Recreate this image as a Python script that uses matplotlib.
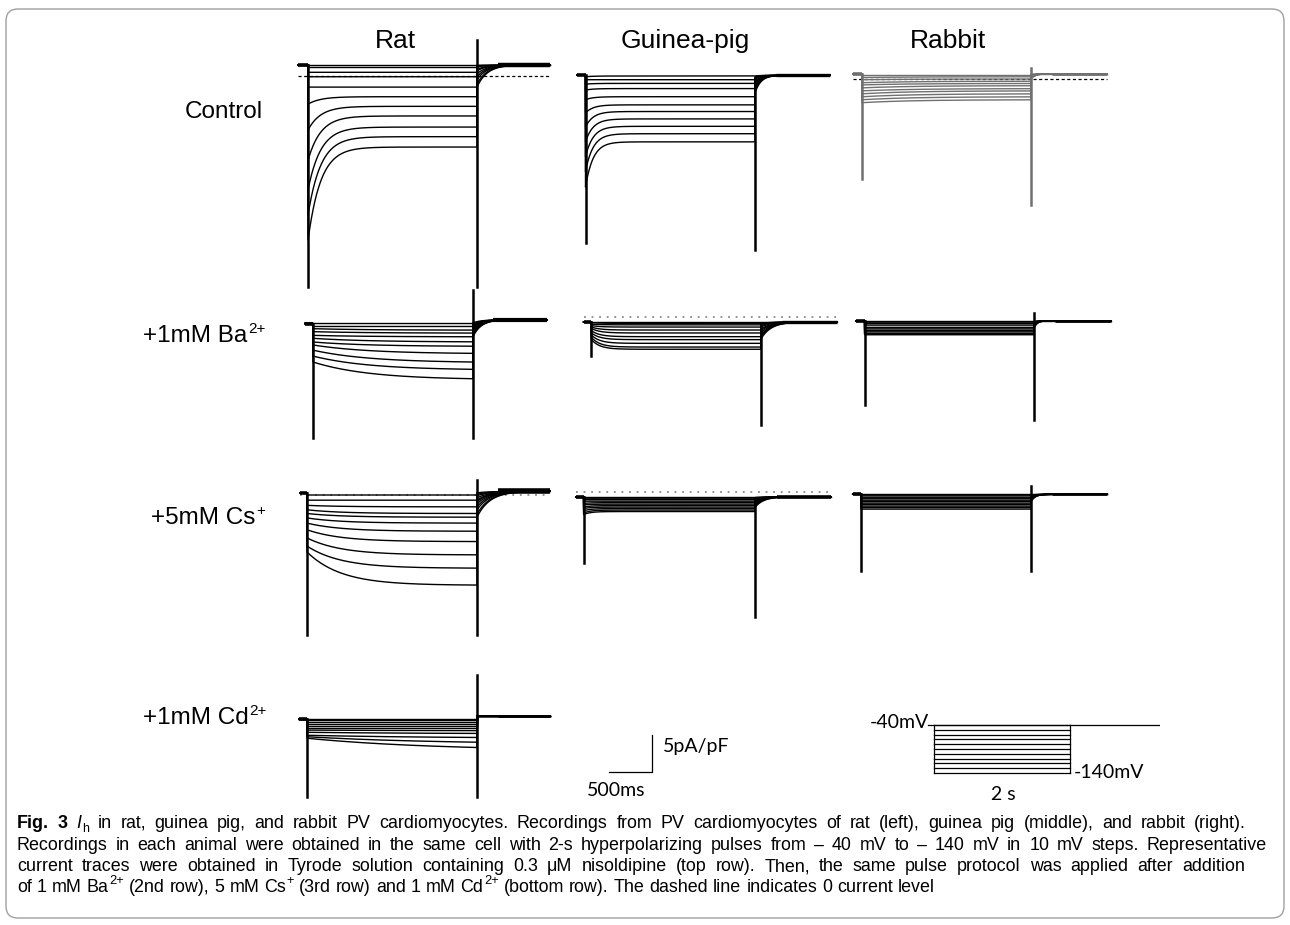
import matplotlib
matplotlib.use("Agg")
import matplotlib.pyplot as plt
import numpy as np
from matplotlib import font_manager
from matplotlib.patches import FancyBboxPatch

# ---------------- data (pA/pF) ----------------
COLUMNS = ["Rat", "Guinea-pig", "Rabbit"]
ROW_BASES = ["Control", "+1mM Ba", "+5mM Cs", "+1mM Cd"]
ROW_SUPS = ["", "2+", "+", "2+"]

RAT_CTRL_HOLD = 1.5
RAT_CTRL_INIT = [1.5, 1.2, 0.5, -0.1, -1.5, -3.8, -7.3, -11.4, -15.4, -18.8, -22.2]
RAT_CTRL_SS = [1.5, 1.2, 0.5, -0.1, -1.5, -2.8, -4.1, -5.4, -6.9, -8.2, -9.6]
RAT_CTRL_TAIL = [1.5, 1.5, 1.4, 1.2, 0.9, 0.7, 0.3, -0.1, -0.5, -1.1, -1.5]
RAT_CTRL_SPIKES = [-28.5, 4.9, -28.5]

GP_CTRL_HOLD = 0.1
GP_CTRL_INIT = [-0.1, -0.5, -1.1, -1.9, -3.2, -5.0, -6.9, -8.9, -10.9, -12.9, -15.0]
GP_CTRL_SS = [0.0, -0.5, -1.0, -1.7, -2.8, -3.9, -4.8, -5.8, -6.8, -7.8, -8.9]
GP_CTRL_TAIL = [0.0, -0.1, -0.3, -0.4, -0.7, -0.9, -1.2, -1.5, -1.8, -2.0, -2.3]
GP_CTRL_SPIKES = [-22.6, -0.3, -23.5]

RAB_CTRL_HOLD = 0.7
RAB_CTRL_INIT = [0.5, 0.2, -0.1, -0.5, -0.8, -1.2, -1.6, -2.0, -2.4, -2.8, -3.2]
RAB_CTRL_SS = [0.5, 0.3, 0.0, -0.3, -0.6, -0.9, -1.3, -1.6, -2.0, -2.4, -2.8]
RAB_CTRL_TAIL = [0.7, 0.6, 0.5, 0.5, 0.4, 0.3, 0.3, 0.2, 0.1, 0.1, 0.0]
RAB_CTRL_SPIKES = [-13.5, 1.5, -17.0]

RAT_BA_HOLD = 0.2
RAT_BA_INIT = [0.2, -0.2, -0.5, -0.9, -1.4, -1.8, -2.3, -2.7, -3.4, -4.2, -5.0]
RAT_BA_SS = [0.2, -0.2, -0.7, -1.1, -1.6, -2.3, -2.9, -3.9, -5.1, -6.1, -7.4]
RAT_BA_TAIL = [0.3, 0.1, 0.0, -0.1, -0.3, -0.5, -0.7, -0.9, -1.1, -1.4, -1.6]
RAT_BA_SPIKES = [-15.3, 4.7, -15.3]

GP_BA_HOLD = -0.7
GP_BA_INIT = [-0.7, -0.8, -1.0, -1.2, -1.4, -1.6, -1.9, -2.2, -2.5, -2.8, -3.1]
GP_BA_SS = [-0.7, -0.9, -1.1, -1.4, -1.8, -2.2, -2.7, -3.1, -3.6, -4.1, -4.4]
GP_BA_TAIL = [-0.7, -0.9, -1.0, -1.2, -1.4, -1.7, -1.9, -2.2, -2.5, -2.7, -3.0]
GP_BA_SPIKES = [-5.3, -0.8, -14.6]

RAB_BA_HOLD = 0.0
RAB_BA_INIT = [0.0, -0.2, -0.4, -0.6, -0.9, -1.1, -1.3, -1.5, -1.7, -1.8, -1.9]
RAB_BA_SS = [0.0, -0.2, -0.4, -0.6, -0.9, -1.1, -1.3, -1.5, -1.7, -1.8, -1.9]
RAB_BA_TAIL = [0.0, -0.1, -0.2, -0.3, -0.4, -0.5, -0.6, -0.7, -0.8, -0.9, -1.0]
RAB_BA_SPIKES = [-11.4, 1.0, -13.4]

RAT_CS_HOLD = 0.3
RAT_CS_INIT = [0.0, -0.7, -1.4, -2.0, -2.5, -3.1, -3.8, -4.7, -5.8, -6.9, -7.7]
RAT_CS_SS = [0.0, -0.7, -1.6, -2.5, -3.0, -3.8, -4.9, -6.3, -8.1, -9.9, -12.2]
RAT_CS_TAIL = [0.3, 0.1, -0.1, -0.4, -0.7, -0.9, -1.2, -1.6, -2.0, -2.6, -3.0]
RAT_CS_SPIKES = [-18.9, 2.0, -18.9]

GP_CS_HOLD = -0.6
GP_CS_INIT = [-0.6, -0.8, -1.0, -1.2, -1.5, -1.7, -2.0, -2.2, -2.5, -2.8, -3.0]
GP_CS_SS = [-0.6, -0.8, -1.0, -1.2, -1.4, -1.6, -1.8, -2.0, -2.2, -2.4, -2.6]
GP_CS_TAIL = [-0.6, -0.7, -0.8, -0.9, -1.0, -1.1, -1.2, -1.4, -1.6, -1.8, -2.0]
GP_CS_SPIKES = [-9.5, -0.8, -16.8]

RAB_CS_HOLD = 0.0
RAB_CS_INIT = [0.0, -0.2, -0.4, -0.6, -0.8, -1.0, -1.2, -1.4, -1.6, -1.8, -2.0]
RAB_CS_SS = [0.0, -0.2, -0.4, -0.6, -0.8, -1.0, -1.2, -1.4, -1.6, -1.8, -2.0]
RAB_CS_TAIL = [0.0, -0.1, -0.2, -0.3, -0.4, -0.5, -0.6, -0.7, -0.8, -0.9, -1.0]
RAB_CS_SPIKES = [-10.3, 1.1, -10.3]

RAT_CD_HOLD = 0.0
RAT_CD_INIT = [0.0, -0.2, -0.4, -0.7, -0.9, -1.2, -1.5, -1.8, -2.2, -2.4, -2.6]
RAT_CD_SS = [0.0, -0.2, -0.4, -0.7, -0.9, -1.2, -1.6, -2.0, -2.6, -3.4, -4.3]
RAT_CD_TAIL = [0.4, 0.4, 0.4, 0.4, 0.4, 0.4, 0.4, 0.4, 0.4, 0.4, 0.4]
RAT_CD_SPIKES = [-10.5, 5.9, -10.5]

PROTOCOL_MV = [-40, -50, -60, -70, -80, -90, -100, -110, -120, -130, -140]
PULSE_MS = 2000
SCALE_MS = 500
SCALE_PAPF = 5

CAPTION_1 = ("in rat, guinea pig, and rabbit PV cardiomyocytes. Recordings from PV "
             "cardiomyocytes of rat (left), guinea pig (middle), and rabbit (right).")
CAPTION_2 = ("Recordings in each animal were obtained in the same cell with 2-s hyperpolarizing "
             "pulses from \u2013 40 mV to \u2013 140 mV in 10 mV steps. Representative")
CAPTION_3 = ("current traces were obtained in Tyrode solution containing 0.3 \u03bcM nisoldipine "
             "(top row). Then, the same pulse protocol was applied after addition")
CAPTION_4 = ["of 1 mM Ba", "2+", "(2nd row), 5 mM Cs", "+", "(3rd row) and 1 mM Cd", "2+",
             "(bottom row). The dashed line indicates 0 current level"]

# ---------------- layout ----------------
W, H = 1290, 925
K = 7.4  # px per pA/pF
fig = plt.figure(figsize=(W / 100, H / 100), dpi=100)
fig.patch.set_facecolor("white")
bg = fig.add_axes([0, 0, 1, 1])
bg.set_xlim(0, W)
bg.set_ylim(H, 0)
bg.axis("off")
renderer = fig.canvas.get_renderer()

fonts = font_manager.fontManager.ttflist
names = {f.name for f in fonts}
SANS = "Liberation Sans" if "Liberation Sans" in names else "DejaVu Sans"
CAP_FONT = SANS
SB_FONT = "Lato" if "Lato" in names else SANS


def make_axes(x_org, y_org, ms_per_px, px_per_unit, t_lo, t_hi, v_lo, v_hi):
    left = x_org + t_lo / ms_per_px
    right = x_org + t_hi / ms_per_px
    top = y_org - v_hi * px_per_unit
    bot = y_org - v_lo * px_per_unit
    ax = fig.add_axes([left / W, 1 - bot / H, (right - left) / W, (bot - top) / H])
    ax.set_xlim(t_lo, t_hi)
    ax.set_ylim(v_lo, v_hi)
    ax.axis("off")
    ax.patch.set_visible(False)
    return ax


def panel(x0, x1, yz, t_pre, t_post, hold, init, ss, tail, spikes, tau, tau_tail,
          post=None, color="black", zero=None, band=2.0):
    mspp = PULSE_MS / (x1 - x0)
    ax = make_axes(x0, yz, mspp, K, t_pre - 30, t_post + 30, -40, 10)
    if post is None:
        post = hold
    if zero == "dash":
        ax.plot([t_pre, t_post], [0, 0], color="black", lw=0.9, ls=(0, (2.5, 2.0)), zorder=1)
    elif zero == "dot":
        ax.plot([t_pre, t_post], [0, 0], color="#8a8a8a", lw=1.3, ls=(0, (1.0, 3.2)), zorder=1)
    tp = np.linspace(0, PULSE_MS, 400)
    tt = np.linspace(PULSE_MS, t_post, 200)
    for i0, s, tl in zip(init, ss, tail):
        yp = s + (i0 - s) * np.exp(-tp / tau)
        yt = post + (tl - post) * np.exp(-(tt - PULSE_MS) / tau_tail)
        t = np.concatenate([[t_pre, 0], tp, tt])
        y = np.concatenate([[hold, hold], yp, yt])
        ax.plot(t, y, color=color, lw=1.0, zorder=2)
    ax.plot([t_pre, 0], [hold, hold], color=color, lw=2.6, solid_capstyle="butt", zorder=3)
    ax.plot([PULSE_MS + 250, t_post], [post, post], color=color, lw=band,
            solid_capstyle="butt", zorder=3)
    ax.plot([0, 0], [hold, spikes[0]], color=color, lw=1.8, zorder=3)
    ax.plot([PULSE_MS, PULSE_MS], [spikes[1], spikes[2]], color=color, lw=1.8, zorder=3)
    return ax


# Row 1: control
panel(308, 477, 76, -118, 2864, RAT_CTRL_HOLD, RAT_CTRL_INIT, RAT_CTRL_SS, RAT_CTRL_TAIL,
      RAT_CTRL_SPIKES, 150, 120, zero="dash", band=3.2)
panel(585.5, 755, 76, -100, 2885, GP_CTRL_HOLD, GP_CTRL_INIT, GP_CTRL_SS, GP_CTRL_TAIL,
      GP_CTRL_SPIKES, 90, 70, band=2.4)
panel(862, 1031, 79, -106, 2899, RAB_CTRL_HOLD, RAB_CTRL_INIT, RAB_CTRL_SS, RAB_CTRL_TAIL,
      RAB_CTRL_SPIKES, 600, 50, color="#707070", zero="dash")
# Row 2: Ba
panel(313, 473, 325, -100, 2925, RAT_BA_HOLD, RAT_BA_INIT, RAT_BA_SS, RAT_BA_TAIL,
      RAT_BA_SPIKES, 700, 100, post=0.7, band=3.0)
panel(591.4, 761, 316.7, -92, 2896, GP_BA_HOLD, GP_BA_INIT, GP_BA_SS, GP_BA_TAIL,
      GP_BA_SPIKES, 100, 120, zero="dot", band=2.4)
panel(864.6, 1034, 320.7, -105, 2909, RAB_BA_HOLD, RAB_BA_INIT, RAB_BA_SS, RAB_BA_TAIL,
      RAB_BA_SPIKES, 100, 40)
# Row 3: Cs
panel(307, 477, 495, -82, 2859, RAT_CS_HOLD, RAT_CS_INIT, RAT_CS_SS, RAT_CS_TAIL,
      RAT_CS_SPIKES, 400, 150, post=0.5, zero="dot", band=4.0)
panel(583.6, 755.3, 492.3, -89, 2882, GP_CS_HOLD, GP_CS_INIT, GP_CS_SS, GP_CS_TAIL,
      GP_CS_SPIKES, 80, 100, zero="dot", band=2.6)
panel(861, 1031, 494.3, -98, 2898, RAB_CS_HOLD, RAB_CS_INIT, RAB_CS_SS, RAB_CS_TAIL,
      RAB_CS_SPIKES, 100, 50)
# Row 4: Cd
panel(307, 477, 719, -94, 2859, RAT_CD_HOLD, RAT_CD_INIT, RAT_CD_SS, RAT_CD_TAIL,
      RAT_CD_SPIKES, 1500, 50, post=0.4)

# scale bar
sb = make_axes(609.4, 771.7, 11.76, K, -50, 600, -1, 6)
sb.plot([0, SCALE_MS, SCALE_MS], [0, 0, SCALE_PAPF], color="black", lw=0.9)

# voltage protocol
pr = make_axes(933.7, 705.8, 2000 / 136.3, 0.48, -120, 3320, -150, -30)
pr.plot([-80, 3310], [PROTOCOL_MV[0], PROTOCOL_MV[0]], color="black", lw=0.9)
for v in PROTOCOL_MV:
    pr.plot([0, PULSE_MS], [v, v], color="black", lw=0.9)
pr.plot([0, 0], [PROTOCOL_MV[0], PROTOCOL_MV[-1]], color="black", lw=0.9)
pr.plot([PULSE_MS, PULSE_MS], [PROTOCOL_MV[0], PROTOCOL_MV[-1]], color="black", lw=0.9)


# ---------------- text helpers ----------------
def text_w(txt, size, family, weight="normal", style="normal"):
    t = bg.text(0, 0, txt, fontsize=size, family=family, fontweight=weight, fontstyle=style)
    w = t.get_window_extent(renderer).width
    t.remove()
    return w


def layout_tokens(tokens, size, family):
    widths = [text_w(tx, size * f, family, wt, st) for tx, f, wt, st, dy, jn in tokens]
    space = text_w("x x", size, family) - text_w("xx", size, family)
    joint = 0.04 * size * 100 / 72
    n_sp = sum(1 for tk in tokens[1:] if not tk[5])
    n_join = sum(1 for tk in tokens[1:] if tk[5])
    return widths, space, joint, n_sp, sum(widths) + n_join * joint


def place_tokens(x, y, tokens, size, family, target_w=None, ha="left"):
    """tokens: (text, size_factor, weight, style, dy_em, join_with_previous)"""
    widths, space, joint, n_sp, total = layout_tokens(tokens, size, family)
    if target_w is not None and n_sp:
        space = (target_w - total) / n_sp
    full = total + n_sp * space
    cx = x - full / 2 if ha == "center" else x
    for i, (tk, w) in enumerate(zip(tokens, widths)):
        tx, f, wt, st, dy, jn = tk
        if i > 0:
            cx += joint if jn else space
        bg.text(cx, y + dy * size * 100 / 72, tx, fontsize=size * f, family=family,
                fontweight=wt, fontstyle=st, va="baseline", ha="left", color="black")
        cx += w
    return full


def words(text, weight="normal", style="normal"):
    return [(wd, 1.0, weight, style, 0, False) for wd in text.split(" ")]


# ---------------- text ----------------
for name, cx in zip(COLUMNS, [395, 685, 948]):
    bg.text(cx, 41, name, fontsize=19, family=SANS, ha="center", va="center")

row_y = [118, 342, 524, 724]
row_x = [224, 204, 208, 205]
for base, sup, x, y in zip(ROW_BASES, ROW_SUPS, row_x, row_y):
    toks = [(base, 1.0, "normal", "normal", 0, False)]
    if sup:
        toks.append((sup, 0.63, "normal", "normal", -0.38, True))
    place_tokens(x, y, toks, 17.5, SANS, ha="center")

bg.text(663, 746.7, "5pA/pF", fontsize=14, family=SB_FONT, ha="left", va="center")
bg.text(587, 790, "500ms", fontsize=14, family=SB_FONT, ha="left", va="center")
bg.text(929, 722, "-40mV", fontsize=14, family=SB_FONT, ha="right", va="center")
bg.text(1074, 773, "-140mV", fontsize=14, family=SB_FONT, ha="left", va="center")
bg.text(1003, 795, "2 s", fontsize=14, family=SB_FONT, ha="center", va="center")

# caption: justified lines 1-3 (slightly widened word spaces), natural last line
sup_t = lambda s: (s, 0.72, "normal", "normal", -0.42, True)
line1 = (words("Fig. 3", weight="bold") +
         [("I", 1.0, "normal", "italic", 0, False), ("h", 0.7, "normal", "normal", 0.22, True)] +
         words(CAPTION_1))
line2 = words(CAPTION_2)
line3 = words(CAPTION_3)
line4 = (words(CAPTION_4[0]) + [sup_t(CAPTION_4[1])] + words(CAPTION_4[2]) +
         [sup_t(CAPTION_4[3])] + words(CAPTION_4[4]) + [sup_t(CAPTION_4[5])] +
         words(CAPTION_4[6]))
probe = 11.0
sizes = []
for toks, tw in [(line1, 1229), (line2, 1250), (line3, 1228)]:
    _, sp, _, nsp, tot = layout_tokens(toks, probe, CAP_FONT)
    sizes.append(probe * tw / (tot + nsp * sp * 1.6))
cs = min(sizes)

place_tokens(17, 828, line1, cs, CAP_FONT, target_w=1229)
place_tokens(17, 850, line2, cs, CAP_FONT, target_w=1250)
place_tokens(17, 871, line3, cs, CAP_FONT, target_w=1228)
place_tokens(17, 892, line4, cs, CAP_FONT)

# frame
frame = FancyBboxPatch((6, 9), 1278, 909, boxstyle="round,pad=0,rounding_size=12",
                       fill=False, edgecolor="#a0a0a0", lw=1.0)
bg.add_patch(frame)

fig.savefig("out.png", dpi=100)
